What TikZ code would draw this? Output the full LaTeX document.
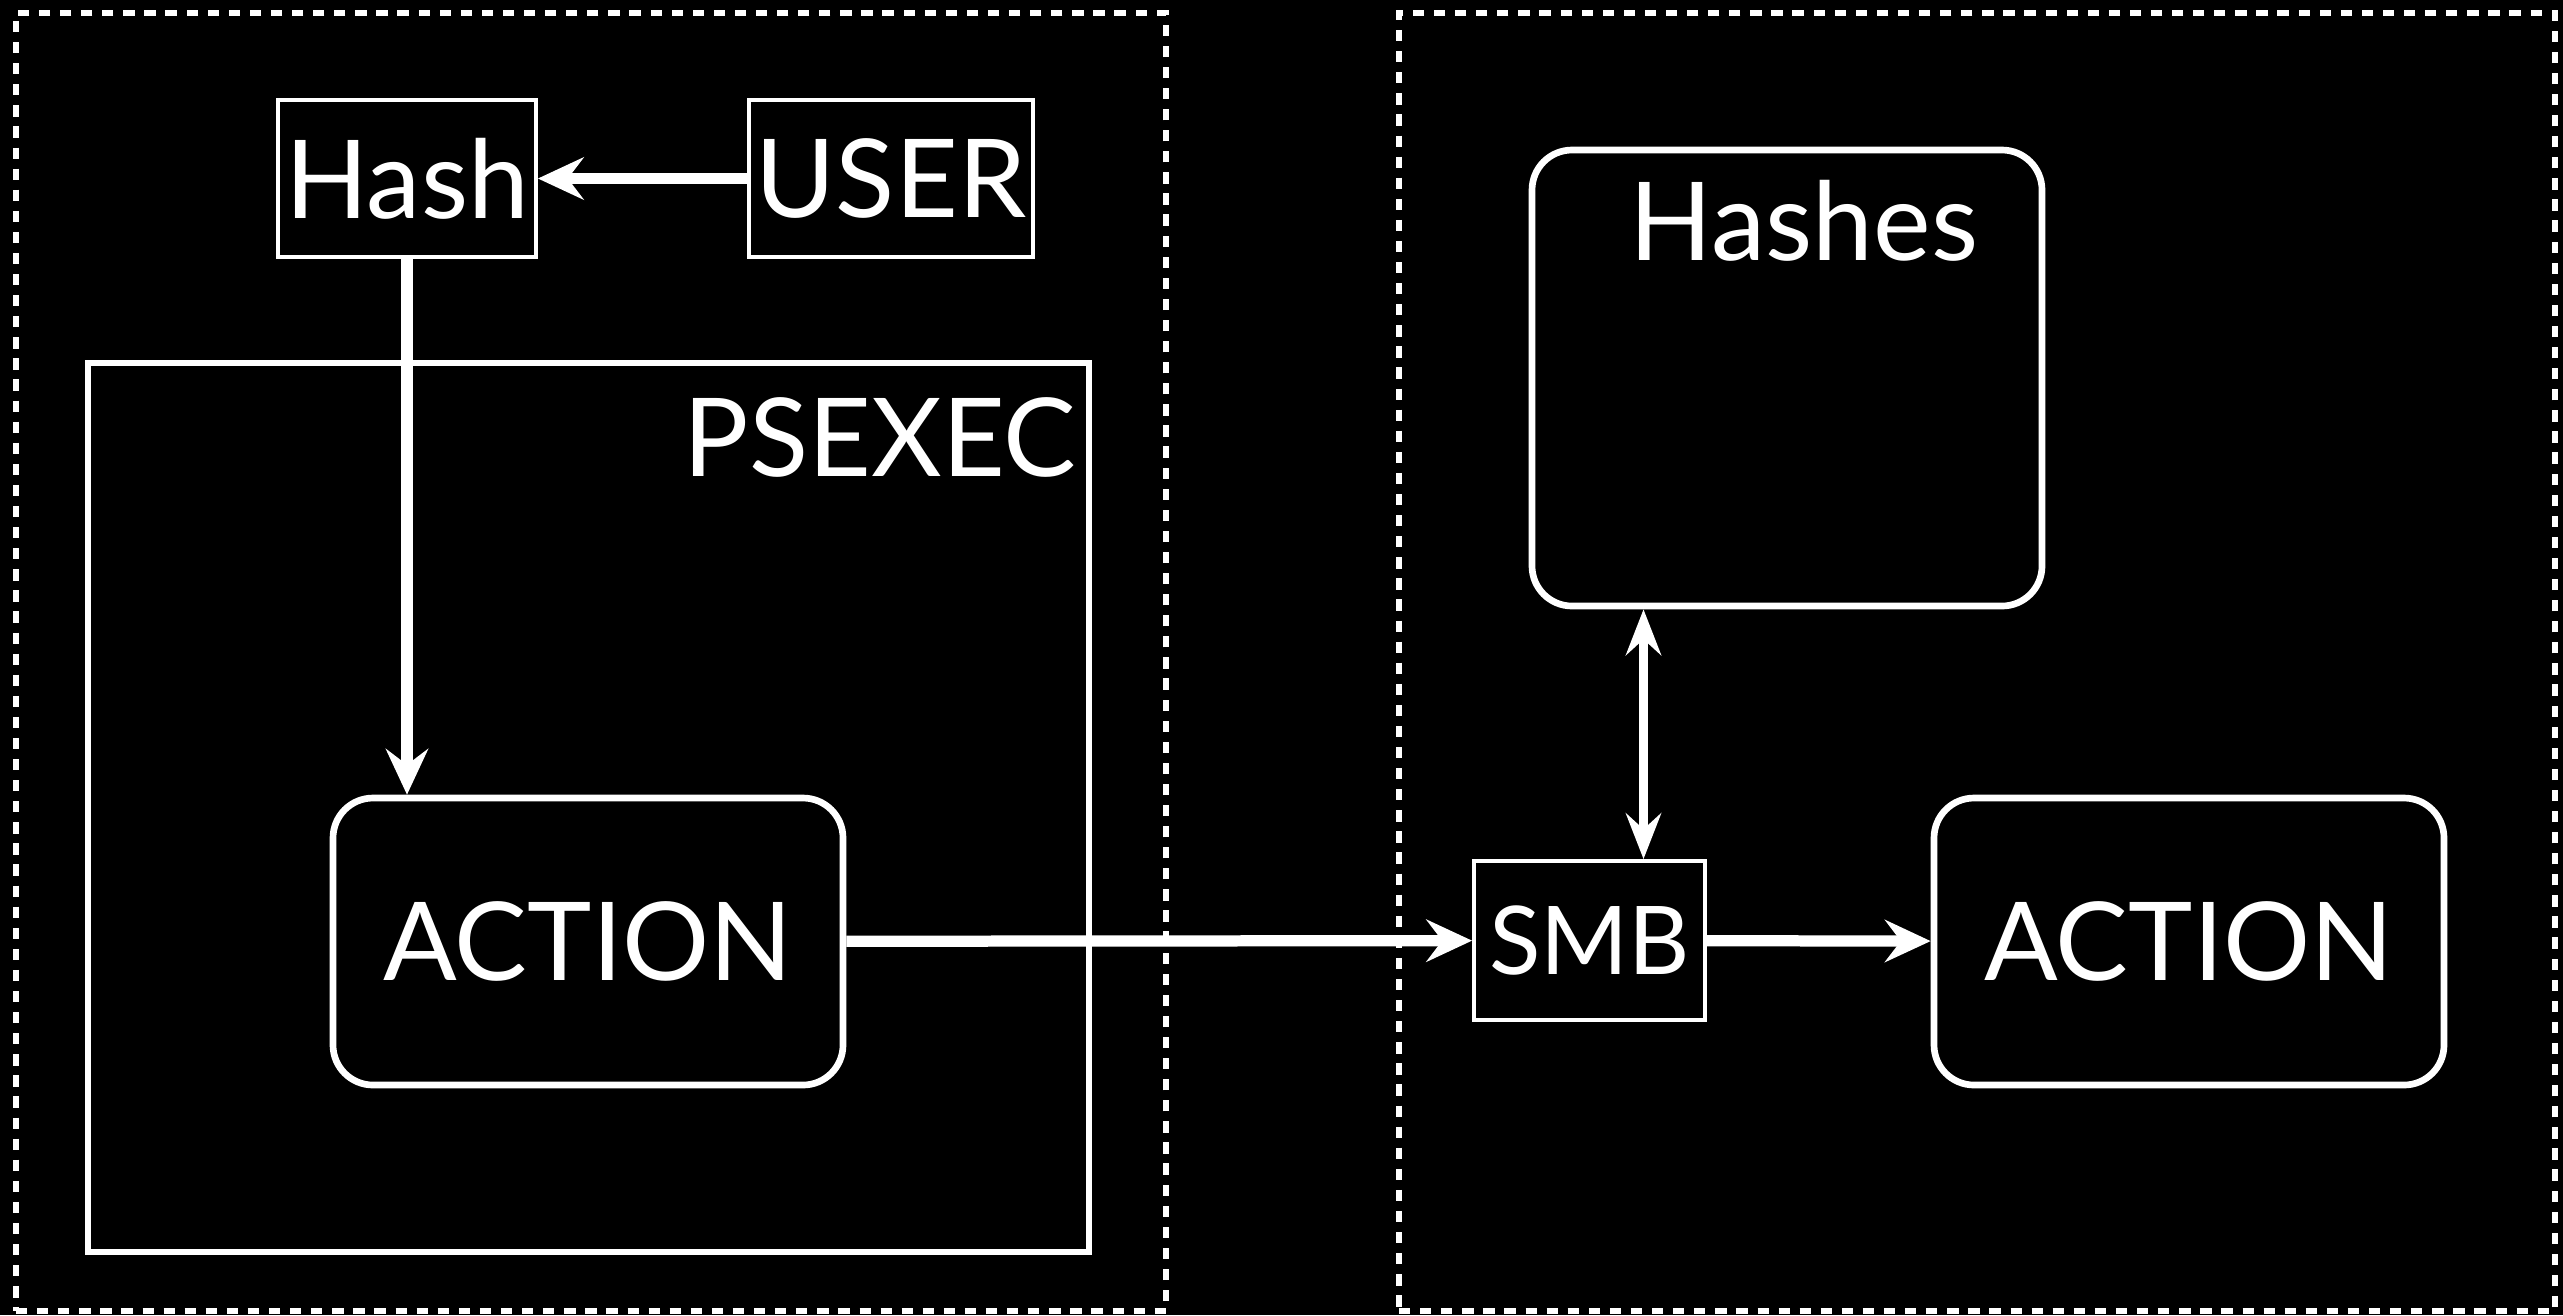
\documentclass[tikz,border=0pt]{standalone}
\usepackage{fontspec}
\setmainfont{Lato}
\usetikzlibrary{arrows.meta}

\begin{document}
\begin{tikzpicture}[
  >={Stealth[length=13pt, width=12pt, inset=4.5pt]},
  every node/.style={text=white, font=\fontsize{31}{31}\selectfont},
  zone/.style={draw=white, line width=1.9pt, dash pattern=on 3.2pt off 2.8pt, inner sep=0pt},
  box/.style={draw=white, line width=1.1pt, inner sep=0pt},
  roundbox/.style={draw=white, line width=1.9pt, rounded corners=0.4cm, inner sep=0pt, minimum width=5.1cm},
  flow/.style={white, line width=3.2pt},
]

\useasboundingbox (0,0) rectangle (25.63,-13.15);
\fill [black] (0,0) rectangle (25.63,-13.15);

\node [zone, minimum width=11.5cm, minimum height=12.98cm] (attacker) at (5.91,-6.62) {};
\node [zone, minimum width=11.56cm, minimum height=12.98cm] (target) at (19.77,-6.62) {};

\node [box, line width=1.6pt, minimum width=10.01cm, minimum height=8.89cm] (psexec) at (5.885,-8.075) {};
\node [anchor=north east, inner sep=0pt] (psexeclabel) at ([xshift=-0.15cm, yshift=-0.37cm]psexec.north east) {PSEXEC};

\node [box, minimum width=2.58cm, minimum height=1.57cm] (hash) at (4.07,-1.785) {Hash};
\node [box, minimum width=2.84cm, minimum height=1.57cm] (user) at (8.91,-1.785) {USER};
\node [roundbox, minimum height=2.87cm] (action) at (5.88,-9.415) {ACTION};

\node [roundbox, minimum height=4.56cm] (hashes) at (17.87,-3.78) {};
\node [anchor=north, inner sep=0pt] (hasheslabel) at ([xshift=0.17cm, yshift=-0.33cm]hashes.north) {Hashes};
\node [box, minimum width=2.31cm, minimum height=1.59cm, font=\fontsize{27}{27}\selectfont] (smb) at (15.895,-9.405) {SMB};
\node [roundbox, minimum height=2.87cm] (remote) at (21.89,-9.415) {ACTION};

\coordinate (link) at ([xshift=0.54cm]smb.north);

\draw [flow, ->] (user) -- (hash);
\draw [flow, ->] (hash.south) -- (hash.south |- action.north);
\draw [flow, ->] (action) -- (smb);
\draw [flow, ->] (smb) -- (remote);
\draw [flow, line width=2.4pt, {Stealth[length=13pt, width=10pt, inset=4.5pt]}-{Stealth[length=13pt, width=10pt, inset=4.5pt]}] (link) -- (link |- hashes.south);

\end{tikzpicture}
\end{document}
